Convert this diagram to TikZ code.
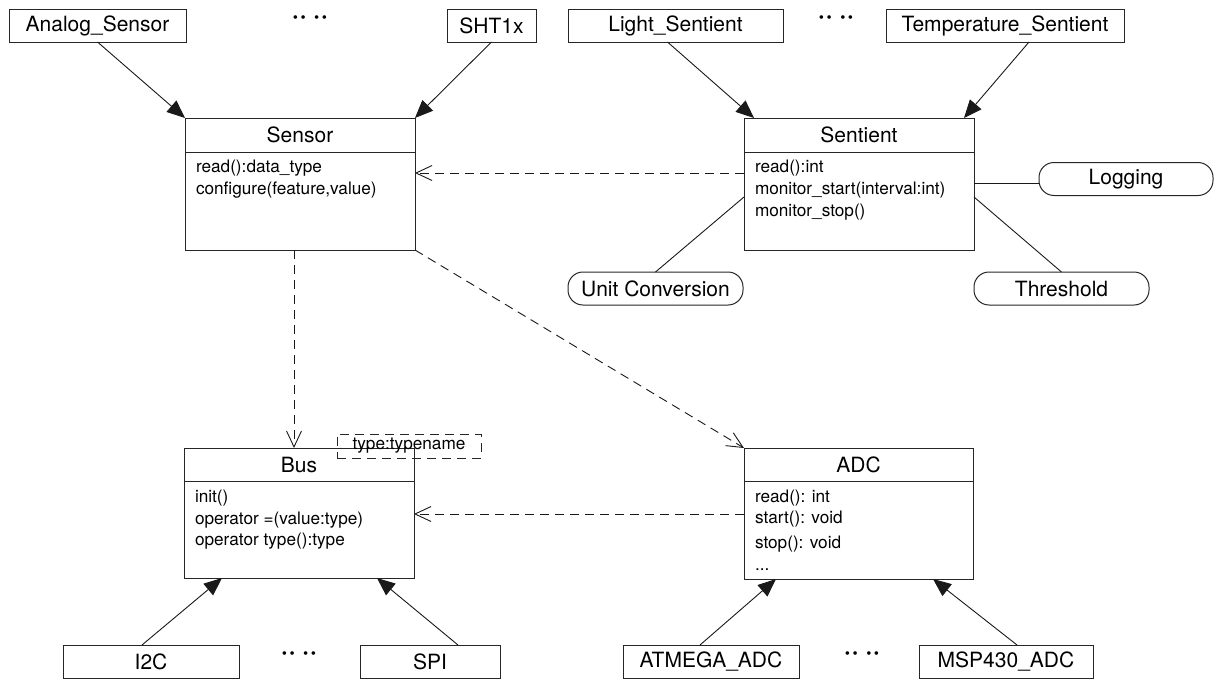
\documentclass[tikz,border=0pt]{standalone}
\usepackage{fontspec}
\setmainfont{TeX Gyre Heros}
\usetikzlibrary{arrows.meta}
\begin{document}
\begin{tikzpicture}[x=1pt,y=-1pt,
  every node/.style={inner sep=0pt, outer sep=0pt},
  big/.style={font=\fontsize{21}{25}\selectfont},
  small/.style={font=\fontsize{17.2}{21}\selectfont},
  leaf/.style={draw=black!85, line width=1pt, big, minimum height=33pt},
  cls/.style={draw=black!85, line width=1pt, anchor=north west},
  pill/.style={draw=black!85, line width=1pt, big, rounded corners=15pt, minimum height=33pt},
  member/.style={small, anchor=west, text height=12pt, text depth=4pt},
  title/.style={big},
  dots/.style={font=\fontsize{24}{28}\selectfont\bfseries},
  gen/.style={draw=black!90, line width=0.9pt, -{Triangle[length=18pt,width=15pt]}},
  dep/.style={draw=black!90, line width=0.9pt, dash pattern=on 9pt off 6pt, -{Straight Barb[length=16pt,width=15pt]}},
  assoc/.style={draw=black!90, line width=0.9pt},
]
\useasboundingbox (0,0) rectangle (1216,680);

% top leaf classes
\node[leaf, minimum width=177pt] (analog) at (97.5,25.5) {Analog\_Sensor};
\node[leaf, minimum width=89pt] (sht) at (491.5,25.5) {SHT1x};
\node[dots] (dotsA) at (310,20) {·\kern1pt·\kern7pt·\kern1pt·};
\node[leaf, minimum width=215pt] (light) at (675.5,25.5) {Light\_Sentient};
\node[dots] (dotsB) at (836,20) {·\kern1pt·\kern7pt·\kern1pt·};
\node[leaf, minimum width=238pt] (temp) at (1005,25.5) {Temperature\_Sentient};

% bottom leaf classes
\node[leaf, minimum width=176pt] (i2c) at (151,661.5) {I2C};
\node[dots] (dotsC) at (299,656) {·\kern1pt·\kern7pt·\kern1pt·};
\node[leaf, minimum width=140pt] (spi) at (430,661.5) {SPI};
\node[leaf, minimum width=176pt] (atmega) at (711,661.5) {ATMEGA\_ADC};
\node[dots] (dotsD) at (862,656) {·\kern1pt·\kern7pt·\kern1pt·};
\node[leaf, minimum width=174pt] (msp) at (1006,661.5) {MSP430\_ADC};

% class boxes
\node[cls, minimum width=230pt, minimum height=132pt] (sensor) at (185,118) {};
\draw[draw=black!85, line width=1pt] ([yshift=-34pt]sensor.north west) -- ([yshift=-34pt]sensor.north east);
\node[title] (sensorT) at (300,135) {Sensor};
\node[member] (sensorM1) at (196,168) {read():data\_type};
\node[member] (sensorM2) at (196,190) {configure(feature,value)};

\node[cls, minimum width=230pt, minimum height=132pt] (sentient) at (744,118) {};
\draw[draw=black!85, line width=1pt] ([yshift=-34pt]sentient.north west) -- ([yshift=-34pt]sentient.north east);
\node[title] (sentientT) at (859,135) {Sentient};
\node[member] (sentientM1) at (755,168) {read():int};
\node[member] (sentientM2) at (755,190) {monitor\_start(interval:int)};
\node[member] (sentientM3) at (755,212) {monitor\_stop()};

\node[cls, minimum width=230pt, minimum height=130pt] (bus) at (184,448) {};
\draw[draw=black!85, line width=1pt] ([yshift=-33pt]bus.north west) -- ([yshift=-33pt]bus.north east);
\node[title] (busT) at (299,464.5) {Bus};
\node[member] (busM1) at (195,498) {init()};
\node[member] (busM2) at (195,520) {operator =(value:type)};
\node[member] (busM3) at (195,541) {operator type():type};

\node[cls, minimum width=229pt, minimum height=131pt] (adc) at (744,448) {};
\draw[draw=black!85, line width=1pt] ([yshift=-33pt]adc.north west) -- ([yshift=-33pt]adc.north east);
\node[title] (adcT) at (858.5,464.5) {ADC};
\node[member] (adcM1) at (755,498) {read(): int};
\node[member] (adcM2) at (755,519) {start(): void};
\node[member] (adcM3) at (755,544) {stop(): void};
\node[member] (adcM4) at (755,566) {...};

% template parameter
\node[draw=black!85, line width=0.9pt, dash pattern=on 9pt off 6pt, small, minimum width=144pt, minimum height=24pt] (tparam) at (409,446) {type:typename};

% aspect pills
\node[pill, minimum width=174pt] (logging) at (1126,179) {Logging};
\node[pill, minimum width=175pt] (threshold) at (1061.5,288.5) {Threshold};
\node[pill, minimum width=175pt] (unit) at (655.5,288.5) {Unit Conversion};

% generalizations
\draw[gen] (analog.south) -- (sensor.north west);
\draw[gen] (sht.south) -- (sensor.north east);
\draw[gen] ([xshift=-8pt]light.south) -- ([xshift=10pt]sentient.north west);
\draw[gen] ([xshift=24pt]temp.south) -- ([xshift=-10pt]sentient.north east);
\draw[gen] ([xshift=-9pt]i2c.north) -- ([xshift=38pt]bus.south west);
\draw[gen] ([xshift=28pt]spi.north) -- ([xshift=-37pt]bus.south east);
\draw[gen] ([xshift=-11pt]atmega.north) -- ([xshift=32pt]adc.south west);
\draw[gen] ([xshift=11pt]msp.north) -- ([xshift=-40pt]adc.south east);

% dependencies
\draw[dep] ([yshift=-55pt]sentient.north west) -- ([yshift=-55pt]sensor.north east);
\draw[dep] ([xshift=109pt]sensor.south west) -- ([xshift=110pt]bus.north west);
\draw[dep] (sensor.south east) -- (adc.north west);
\draw[dep] ([yshift=-66pt]adc.north west) -- ([yshift=-66pt]bus.north east);

% associations to aspects
\draw[assoc] ([yshift=-65pt]sentient.north east) -- ([yshift=-65pt]sentient.north east -| logging.west);
\draw[assoc] ([yshift=-79pt]sentient.north east) -- (threshold.north);
\draw[assoc] ([yshift=-79pt]sentient.north west) -- (unit.north);
\end{tikzpicture}
\end{document}
